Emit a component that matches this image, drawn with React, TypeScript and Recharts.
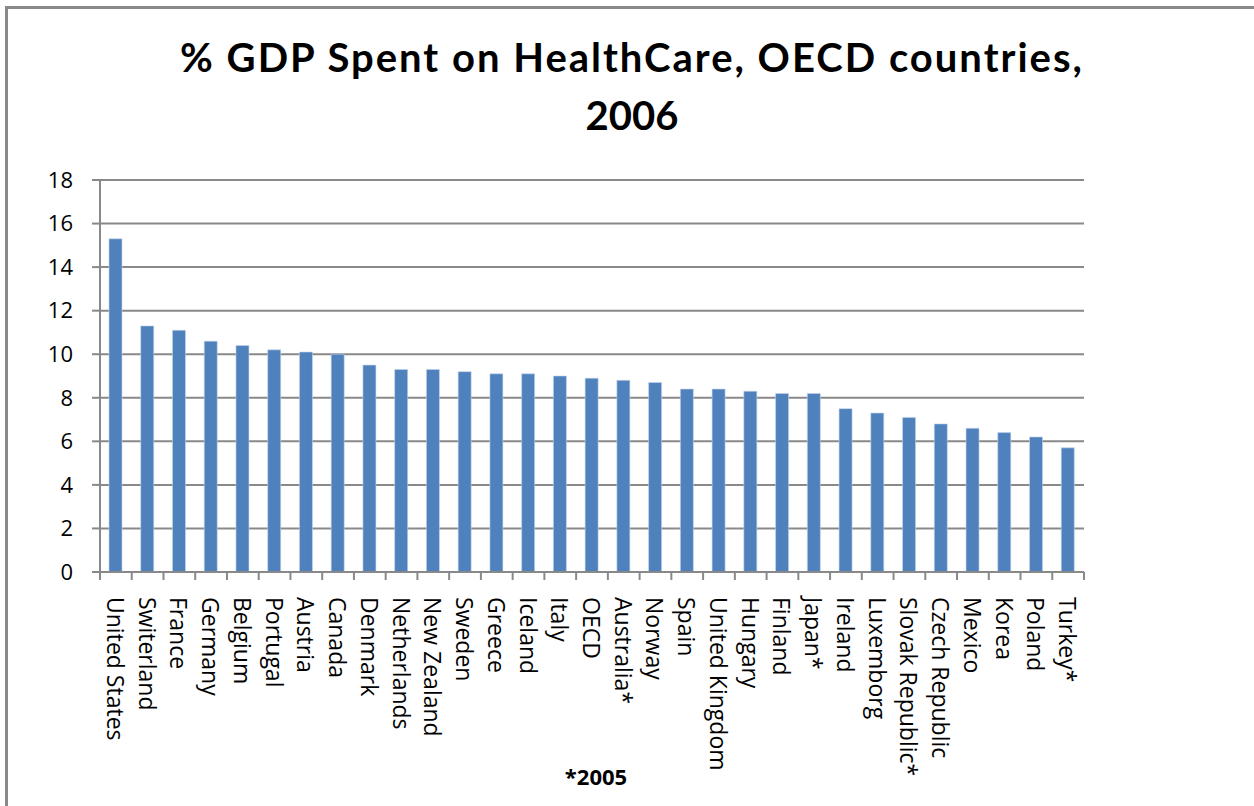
import { Bar, BarChart, CartesianGrid, XAxis, YAxis } from 'recharts'

const paises = [
  'United States', 'Switerland', 'France', 'Germany', 'Belgium', 'Portugal', 'Austria', 'Canada',
  'Denmark', 'Netherlands', 'New Zealand', 'Sweden', 'Greece', 'Iceland', 'Italy', 'OECD',
  'Australia*', 'Norway', 'Spain', 'United Kingdom', 'Hungary', 'Finland', 'Japan*', 'Ireland',
  'Luxemborg', 'Slovak Republic*', 'Czech Republic', 'Mexico', 'Korea', 'Poland', 'Turkey*',
]

const gastoPib = [
  15.3, 11.3, 11.1, 10.6, 10.4, 10.2, 10.1, 10.0,
  9.5, 9.3, 9.3, 9.2, 9.1, 9.1, 9.0, 8.9,
  8.8, 8.7, 8.4, 8.4, 8.3, 8.2, 8.2, 7.5,
  7.3, 7.1, 6.8, 6.6, 6.4, 6.2, 5.7,
]

const ticksY = [0, 2, 4, 6, 8, 10, 12, 14, 16, 18]

const datos = paises.map((nombre, i) => ({ nombre, valor: gastoPib[i] }))

const GRIS = '#898989'
const FUENTE = '"Open Sans", Lato, sans-serif'
const FUENTE_TITULO = 'Lato, "Open Sans", sans-serif'

function TickPais(props: any) {
  const { x, y, payload, index } = props
  const medio = payload.offset ?? 0
  const ultimo = index === paises.length - 1
  return (
    <g>
      <line x1={x - medio} y1={y - 8} x2={x - medio} y2={y} stroke={GRIS} strokeWidth={2} />
      {ultimo && <line x1={x + medio} y1={y - 8} x2={x + medio} y2={y} stroke={GRIS} strokeWidth={2} />}
      <g transform={`translate(${x},${y})`}>
        <text
          transform="rotate(90)"
          x={17}
          y={0}
          textAnchor="start"
          dominantBaseline="central"
          fill="#000"
          fontSize={23}
          fontFamily={FUENTE}
        >
          {payload.value}
        </text>
      </g>
    </g>
  )
}

export default function App() {
  return (
    <div style={{ position: 'absolute', left: 0, top: 0, width: 1254, height: 806, background: '#fff', overflow: 'hidden' }}>
      <div
        style={{
          position: 'absolute',
          left: 5,
          top: 6,
          width: 1246,
          height: 820,
          borderTop: `3px solid ${GRIS}`,
          borderLeft: `3px solid ${GRIS}`,
          borderRight: '1px solid #d9d9d9',
        }}
      />
      <div
        style={{
          position: 'absolute',
          left: 0,
          top: 28,
          width: 1264,
          textAlign: 'center',
          fontFamily: FUENTE_TITULO,
          fontWeight: 700,
          fontSize: 40,
          letterSpacing: 2,
          lineHeight: '58px',
        }}
      >
        % GDP Spent on HealthCare, OECD countries,
        <br />
        <span style={{ letterSpacing: 0 }}>2006</span>
      </div>
      <BarChart
        width={1254}
        height={806}
        data={datos}
        margin={{ top: 180, right: 170, bottom: 0, left: 0 }}
        style={{ position: 'absolute', left: 0, top: 0 }}
      >
        <CartesianGrid vertical={false} stroke={GRIS} strokeWidth={2} strokeDasharray="0" />
        <XAxis
          dataKey="nombre"
          interval={0}
          height={234}
          tickLine={false}
          tickSize={8}
          tickMargin={0}
          axisLine={{ stroke: GRIS, strokeWidth: 2 }}
          tick={<TickPais />}
        />
        <YAxis
          type="number"
          domain={[0, 18]}
          ticks={ticksY}
          width={100}
          tickSize={8}
          tickMargin={19}
          tickLine={{ stroke: GRIS, strokeWidth: 2 }}
          axisLine={{ stroke: GRIS, strokeWidth: 2 }}
          tick={{ fill: '#000', fontSize: 22, fontFamily: FUENTE }}
        />
        <Bar dataKey="valor" fill="#4F81BD" stroke="#c5d5ea" strokeWidth={0.6} barSize={13} isAnimationActive={false} />
      </BarChart>
      <div
        style={{
          position: 'absolute',
          left: 496,
          top: 761,
          width: 200,
          textAlign: 'center',
          fontFamily: FUENTE,
          fontWeight: 700,
          fontSize: 22,
        }}
      >
        *2005
      </div>
    </div>
  )
}
